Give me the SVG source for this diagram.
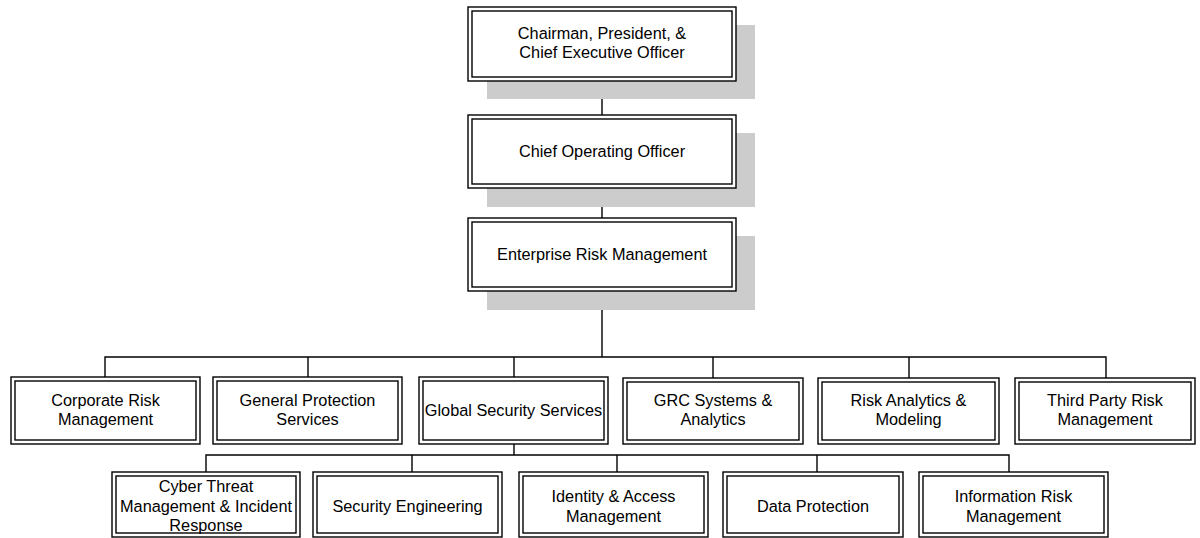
<svg xmlns="http://www.w3.org/2000/svg" width="1200" height="538" viewBox="0 0 1200 538">
  <style>
    .shadow { fill: #cccccc; stroke: none; }
    .outer { fill: #ffffff; stroke: #000000; stroke-width: 1.4; }
    .inner { fill: none; stroke: #000000; stroke-width: 1.4; }
    .label { font-family: "Liberation Sans", Arial, sans-serif; font-size: 16.3px; fill: #000000; text-anchor: middle; }
    .wire { fill: none; stroke: #000000; stroke-width: 1.4; }
  </style>

  <!-- connectors -->
  <g id="connectors">
    <path class="wire" d="M602 81 V115 M602 188 V218 M602 291 V357"/>
    <path class="wire" d="M105 377 V357 H1106 V378 M308 357 V377 M514 357 V377 M713 357 V378 M909 357 V378"/>
    <path class="wire" d="M514 444 V455 M206 472 V455 H1009 V472 M412 455 V472 M617 455 V472 M817 455 V472"/>
  </g>

  <!-- executive chain -->
  <g id="ceo">
    <rect class="shadow" x="487" y="25" width="268" height="74"/>
    <rect class="outer" x="468" y="7" width="268" height="74"/>
    <rect class="inner" x="472" y="11" width="260" height="66"/>
    <text class="label" x="602" y="39">Chairman, President, &amp;</text>
    <text class="label" x="602" y="58">Chief Executive Officer</text>
  </g>
  <g id="coo">
    <rect class="shadow" x="487" y="133" width="268" height="74"/>
    <rect class="outer" x="468" y="115" width="268" height="73"/>
    <rect class="inner" x="472" y="119" width="260" height="65"/>
    <text class="label" x="602" y="157">Chief Operating Officer</text>
  </g>
  <g id="erm">
    <rect class="shadow" x="487" y="236" width="268" height="74"/>
    <rect class="outer" x="468" y="218" width="268" height="73"/>
    <rect class="inner" x="472" y="222" width="260" height="65"/>
    <text class="label" x="602" y="260">Enterprise Risk Management</text>
  </g>

  <!-- departments -->
  <g id="corporate-risk">
    <rect class="outer" x="11" y="377" width="189" height="67"/>
    <rect class="inner" x="15" y="381" width="181" height="59"/>
    <text class="label" x="105.5" y="406">Corporate Risk</text>
    <text class="label" x="105.5" y="425">Management</text>
  </g>
  <g id="general-protection">
    <rect class="outer" x="213" y="377" width="189" height="67"/>
    <rect class="inner" x="217" y="381" width="181" height="59"/>
    <text class="label" x="307.5" y="406">General Protection</text>
    <text class="label" x="307.5" y="425">Services</text>
  </g>
  <g id="global-security">
    <rect class="outer" x="419" y="377" width="189" height="67"/>
    <rect class="inner" x="423" y="381" width="181" height="59"/>
    <text class="label" x="513.5" y="416">Global Security Services</text>
  </g>
  <g id="grc">
    <rect class="outer" x="623" y="378" width="180" height="66"/>
    <rect class="inner" x="627" y="382" width="172" height="58"/>
    <text class="label" x="713" y="406">GRC Systems &amp;</text>
    <text class="label" x="713" y="425">Analytics</text>
  </g>
  <g id="risk-analytics">
    <rect class="outer" x="818" y="378" width="181" height="66"/>
    <rect class="inner" x="822" y="382" width="173" height="58"/>
    <text class="label" x="908.5" y="406">Risk Analytics &amp;</text>
    <text class="label" x="908.5" y="425">Modeling</text>
  </g>
  <g id="third-party">
    <rect class="outer" x="1015" y="378" width="180" height="66"/>
    <rect class="inner" x="1019" y="382" width="172" height="58"/>
    <text class="label" x="1105" y="406">Third Party Risk</text>
    <text class="label" x="1105" y="425">Management</text>
  </g>

  <!-- security services teams -->
  <g id="cyber-threat">
    <rect class="outer" x="112" y="472" width="188" height="65"/>
    <rect class="inner" x="116" y="476" width="180" height="57"/>
    <text class="label" x="206" y="492">Cyber Threat</text>
    <text class="label" x="206" y="512">Management &amp; Incident</text>
    <text class="label" x="206" y="531">Response</text>
  </g>
  <g id="security-engineering">
    <rect class="outer" x="313" y="472" width="189" height="65"/>
    <rect class="inner" x="317" y="476" width="181" height="57"/>
    <text class="label" x="407.5" y="512">Security Engineering</text>
  </g>
  <g id="identity-access">
    <rect class="outer" x="519" y="472" width="189" height="65"/>
    <rect class="inner" x="523" y="476" width="181" height="57"/>
    <text class="label" x="613.5" y="502">Identity &amp; Access</text>
    <text class="label" x="613.5" y="522">Management</text>
  </g>
  <g id="data-protection">
    <rect class="outer" x="723" y="472" width="180" height="65"/>
    <rect class="inner" x="727" y="476" width="172" height="57"/>
    <text class="label" x="813" y="512">Data Protection</text>
  </g>
  <g id="information-risk">
    <rect class="outer" x="919" y="472" width="189" height="65"/>
    <rect class="inner" x="923" y="476" width="181" height="57"/>
    <text class="label" x="1013.5" y="502">Information Risk</text>
    <text class="label" x="1013.5" y="522">Management</text>
  </g>
</svg>
